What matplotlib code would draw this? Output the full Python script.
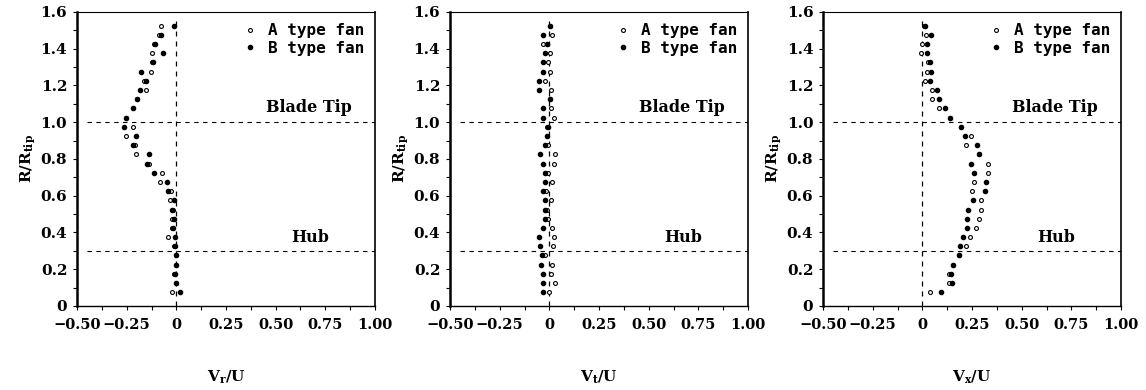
import numpy as np
import matplotlib
matplotlib.use("Agg")
import matplotlib.pyplot as plt
from matplotlib.ticker import MultipleLocator

plt.rcParams['font.family'] = ['DejaVu Serif']
plt.rcParams['font.weight'] = 'bold'
plt.rcParams['mathtext.fontset'] = 'dejavuserif'

# radial stations R/R_tip (same for every panel and both fans)
r_pos = [0.075, 0.125, 0.175, 0.225, 0.275, 0.325, 0.375, 0.425, 0.475, 0.525,
         0.575, 0.625, 0.675, 0.725, 0.775, 0.825, 0.875, 0.925, 0.975, 1.025,
         1.075, 1.125, 1.175, 1.225, 1.275, 1.325, 1.375, 1.425, 1.475, 1.525]

# radial velocity Vr/U
vr_a = [-0.020, 0.000, -0.010, 0.000, -0.003, -0.010, -0.042, -0.020, -0.020, -0.015,
        -0.034, -0.025, -0.080, -0.072, -0.140, -0.205, -0.210, -0.255, -0.218, -0.255,
        -0.220, -0.200, -0.155, -0.165, -0.126, -0.125, -0.125, -0.110, -0.085, -0.075]
vr_b = [0.017, 0.000, -0.005, 0.000, -0.003, -0.008, -0.008, -0.015, -0.010, -0.020,
        -0.010, -0.040, -0.047, -0.110, -0.150, -0.138, -0.220, -0.205, -0.262, -0.255,
        -0.220, -0.200, -0.185, -0.155, -0.176, -0.115, -0.065, -0.105, -0.078, -0.013]

# tangential velocity Vt/U
vt_a = [0.000, 0.029, 0.007, 0.012, -0.022, 0.017, 0.024, 0.012, -0.005, -0.010,
        0.007, -0.017, 0.012, -0.005, 0.024, 0.029, -0.005, -0.013, -0.013, 0.023,
        0.007, 0.003, 0.007, -0.022, 0.003, -0.005, 0.003, -0.030, 0.012, 0.003]
vt_b = [-0.030, -0.034, -0.034, -0.044, -0.039, -0.047, -0.050, -0.034, -0.022, -0.022,
        -0.022, -0.034, -0.022, -0.022, -0.030, -0.047, -0.022, -0.013, -0.005, -0.030,
        -0.030, 0.003, -0.050, -0.050, -0.030, -0.034, -0.022, -0.013, -0.030, 0.003]

# axial velocity Vx/U
vx_a = [0.039, 0.134, 0.134, 0.156, 0.186, 0.218, 0.240, 0.268, 0.285, 0.297,
        0.294, 0.248, 0.260, 0.332, 0.330, 0.285, 0.218, 0.243, 0.196, 0.140,
        0.084, 0.050, 0.050, 0.013, 0.025, 0.030, -0.008, -0.003, 0.017, 0.008]
vx_b = [0.092, 0.148, 0.146, 0.156, 0.186, 0.188, 0.206, 0.226, 0.226, 0.230,
        0.255, 0.314, 0.322, 0.260, 0.243, 0.285, 0.277, 0.213, 0.196, 0.140,
        0.114, 0.084, 0.075, 0.038, 0.045, 0.040, 0.025, 0.022, 0.042, 0.012]

panels = [(vr_a, vr_b, r'V$_\mathbf{r}$/U'),
          (vt_a, vt_b, r'V$_\mathbf{t}$/U'),
          (vx_a, vx_b, r'V$_\mathbf{x}$/U')]

x_ticks = [-0.5, -0.25, 0, 0.25, 0.5, 0.75, 1.0]
x_tick_labels = ['\u22120.50', '\u22120.25', '0', '0.25', '0.50', '0.75', '1.00']
y_ticks = [0, 0.2, 0.4, 0.6, 0.8, 1.0, 1.2, 1.4, 1.6]
y_tick_labels = ['0', '0.2', '0.4', '0.6', '0.8', '1.0', '1.2', '1.4', '1.6']

fig = plt.figure(figsize=(11.46, 3.90), dpi=100)
lefts = [0.0672, 0.3927, 0.7182]

for left, (va, vb, xlab) in zip(lefts, panels):
    ax = fig.add_axes([left, 0.2154, 0.26, 0.754])
    ax.set_xlim(-0.5, 1.0)
    ax.set_ylim(0, 1.6)

    # reference lines: blade tip, hub, zero velocity
    ax.hlines([1.0, 0.3], -0.45, 1.0, colors='black', linestyles=(0, (4, 4)), linewidth=0.8)
    ax.vlines(0, 0, 1.58, colors='black', linestyles=(0, (4, 4)), linewidth=0.9)

    ax.plot(va, r_pos, 'o', ms=2.8, mfc='white', mec='black', mew=0.8,
            linestyle='none', label='A type fan')
    ax.plot(vb, r_pos, 'o', ms=3.0, mfc='black', mec='black',
            linestyle='none', label='B type fan')

    ax.text(0.665, 1.08, 'Blade Tip', ha='center', va='center', fontsize=11.5,
            fontweight='bold')
    ax.text(0.675, 0.37, 'Hub', ha='center', va='center', fontsize=11.5,
            fontweight='bold')

    ax.set_xticks(x_ticks)
    ax.set_xticklabels(x_tick_labels, fontsize=10.5, fontweight='bold')
    ax.xaxis.set_minor_locator(MultipleLocator(0.125))
    ax.set_yticks(y_ticks)
    ax.set_yticklabels(y_tick_labels, fontsize=11, fontweight='bold')
    ax.yaxis.set_minor_locator(MultipleLocator(0.1))
    ax.tick_params(which='both', direction='out', length=3, width=0.8, pad=4)
    ax.tick_params(axis='x', which='major', pad=6)

    ax.set_xlabel(xlab, fontsize=11, fontweight='bold', labelpad=26)
    ax.set_ylabel(r'R/R$_\mathbf{tip}$', fontsize=11, fontweight='bold', labelpad=2)

    ax.spines['left'].set_linewidth(1.8)
    ax.spines['bottom'].set_linewidth(1.0)
    ax.spines['top'].set_linewidth(0.8)
    ax.spines['right'].set_linewidth(1.2)

    ax.legend(loc='upper right', frameon=False, handletextpad=0.6,
              borderaxespad=0.3, handlelength=1.0, labelspacing=0.15,
              prop={'family': 'DejaVu Sans Mono', 'weight': 'bold', 'size': 11.5})

fig.savefig('out.png', dpi=100)
